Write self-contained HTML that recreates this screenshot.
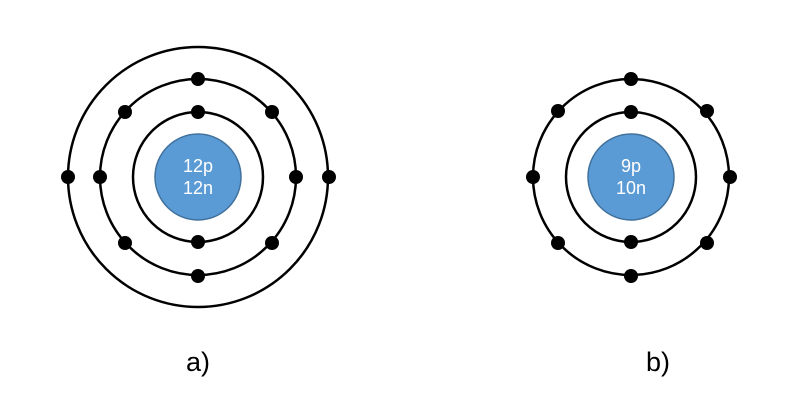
<!DOCTYPE html>
<html><head><meta charset="utf-8"><style>
html,body{margin:0;padding:0;background:#fff;}
svg{display:block;}
text{font-family:"Liberation Sans",sans-serif;}
</style></head><body>
<svg width="798" height="401" viewBox="0 0 798 401" xmlns="http://www.w3.org/2000/svg">
<rect width="798" height="401" fill="#fff"/>
<g fill="none" stroke="#000" stroke-width="2.5">
<circle cx="198" cy="177" r="65"/>
<circle cx="198" cy="177" r="98"/>
<circle cx="198" cy="177" r="130"/>
<circle cx="631" cy="177" r="65"/>
<circle cx="631" cy="177" r="98"/>
</g>
<circle cx="198" cy="177" r="43" fill="#5B9BD5" stroke="#41719C" stroke-width="1.5"/>
<circle cx="631" cy="177" r="43" fill="#5B9BD5" stroke="#41719C" stroke-width="1.5"/>
<g fill="#000">
<circle cx="198" cy="112" r="7"/><circle cx="198" cy="242" r="7"/>
<circle cx="198" cy="79" r="7"/><circle cx="198" cy="276" r="7"/>
<circle cx="100" cy="177" r="7"/><circle cx="296" cy="177" r="7"/>
<circle cx="125" cy="112" r="7"/><circle cx="272" cy="112" r="7"/>
<circle cx="125" cy="243" r="7"/><circle cx="272" cy="243" r="7"/>
<circle cx="68" cy="177" r="7"/><circle cx="329" cy="177" r="7"/>
<circle cx="631" cy="112" r="7"/><circle cx="631" cy="242" r="7"/>
<circle cx="631" cy="79" r="7"/><circle cx="631" cy="276" r="7"/>
<circle cx="533" cy="177" r="7"/><circle cx="730" cy="177" r="7"/>
<circle cx="558" cy="111" r="7"/><circle cx="707" cy="111" r="7"/>
<circle cx="558" cy="243" r="7"/><circle cx="707" cy="243" r="7"/>
</g>
<g fill="#fff" font-size="18" text-anchor="middle">
<text x="198" y="172">12p</text><text x="198" y="194">12n</text>
<text x="631" y="172">9p</text><text x="631" y="194">10n</text>
</g>
<g fill="#000" font-size="27" text-anchor="middle">
<text x="198" y="371">a)</text>
<text x="658" y="371">b)</text>
</g>
</svg>
</body></html>
